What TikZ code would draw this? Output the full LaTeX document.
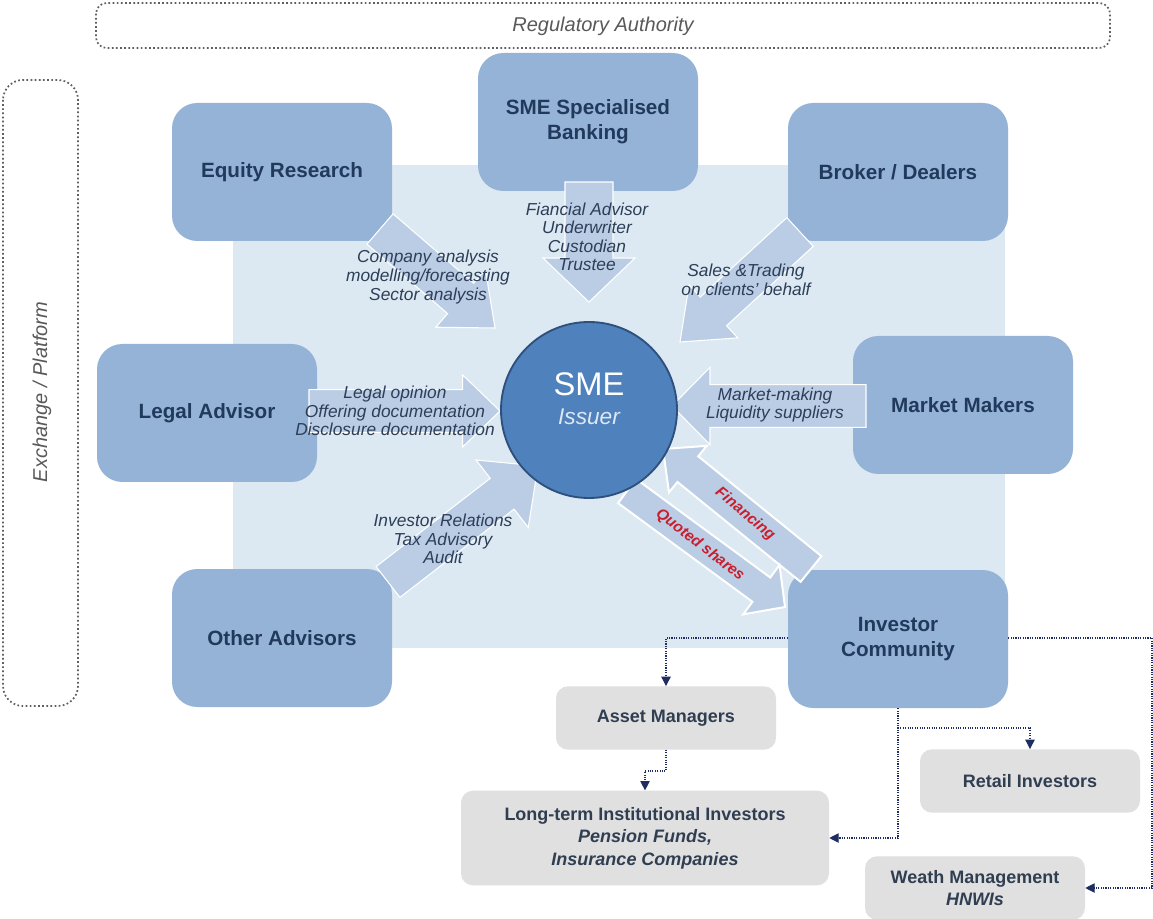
\documentclass[tikz,border=0pt]{standalone}
\usepackage{fontspec}
\setmainfont{Liberation Sans}
\usepackage{tikz}
\usetikzlibrary{arrows.meta,calc}

\definecolor{pagebg}{RGB}{220,233,242}
\definecolor{boxblue}{RGB}{149,179,215}
\definecolor{arrowblue}{RGB}{186,205,229}
\definecolor{smeblue}{RGB}{79,129,189}
\definecolor{smeedge}{RGB}{45,80,125}
\definecolor{boxtext}{RGB}{33,58,92}
\definecolor{flowtext}{RGB}{45,62,88}
\definecolor{greybox}{RGB}{224,224,224}
\definecolor{greytext}{RGB}{48,62,82}
\definecolor{frameline}{RGB}{95,95,95}
\definecolor{frametext}{RGB}{89,89,89}
\definecolor{linkblue}{RGB}{31,45,96}
\definecolor{flowred}{RGB}{200,30,45}
\definecolor{issuertext}{RGB}{222,232,244}

\tikzset{
  dotframe/.style={draw=frameline, line width=1.3pt, dash pattern=on 1.3pt off 1.8pt},
  frametag/.style={text=frametext, font=\fontsize{15}{18}\selectfont\itshape},
  player/.style={rectangle, rounded corners=19pt, fill=boxblue, minimum width=165pt, minimum height=103.5pt,
    align=center, text=boxtext, font=\fontsize{15.5}{18.75}\selectfont\bfseries},
  investorbox/.style={rectangle, rounded corners=9pt, fill=greybox, minimum width=165pt, minimum height=47.5pt,
    align=center, text=greytext, font=\fontsize{13.5}{16.8}\selectfont\bfseries},
  smecircle/.style={circle, fill=smeblue, draw=smeedge, line width=1.4pt, minimum size=132pt, inner sep=0pt},
  flowarrow/.style={fill=arrowblue, draw=white, line width=0.8pt},
  flowlabel/.style={align=center, text=flowtext, inner sep=0pt, font=\fontsize{13}{13.9}\selectfont\itshape},
  tradelabel/.style={text=flowred, font=\fontsize{11.5}{13}\selectfont\bfseries\itshape, inner sep=0pt},
  feedline/.style={linkblue, line width=0.8pt, densely dotted, -{Triangle[length=7pt,width=7pt]}}
}

\newcommand{\blockarrow}[6][]{%
  \coordinate (ba-base) at ($(#3)!#6!(#2)$);
  \filldraw[flowarrow,#1] ($(#2)!#4!90:(#3)$) -- ($(ba-base)!#4!90:(#3)$)
    -- ($(ba-base)!#5!90:(#3)$) -- (#3) -- ($(ba-base)!#5!-90:(#3)$)
    -- ($(ba-base)!#4!-90:(#3)$) -- ($(#2)!#4!-90:(#3)$) -- cycle;}

\begin{document}
\begin{tikzpicture}[x=0.75pt, y=-0.75pt]
\fill[white] (0,0) rectangle (1153,919);
\useasboundingbox (0,0) rectangle (1153,919);

\draw[dotframe, rounded corners=8pt] (96,3) rectangle (1110,48);
\node[frametag] (reg) at (603,26) {Regulatory Authority};
\draw[dotframe, rounded corners=15pt] (3,80) rectangle (78,706);
\node[frametag, rotate=90] (exch) at (42,392) {Exchange / Platform};

\fill[pagebg] (233,165) rectangle (1005,648);

\node[player] (eq) at (282,172) {Equity Research};
\node[player] (bank) at (588,122) {SME Specialised\\Banking};
\node[player] (brk) at (898,172) {Broker / Dealers};
\node[player] (legal) at (207,413) {Legal Advisor};
\node[player] (mm) at (963,405) {Market Makers};
\node[player] (oth) at (282,638) {Other Advisors};
\node[player] (inv) at (898,639) {Investor\\Community};

\coordinate (eq-t) at (380,229);   \coordinate (eq-h) at (495,328);
\coordinate (bank-t) at (589,182); \coordinate (bank-h) at (589,302);
\coordinate (brk-t) at (800,232);  \coordinate (brk-h) at (680,342);
\coordinate (legal-t) at (309,411);\coordinate (legal-h) at (500,411);
\coordinate (mm-t) at (866,406);   \coordinate (mm-h) at (672,406);
\coordinate (oth-t) at (388,582);  \coordinate (oth-h) at (538,466);
\coordinate (fin-t) at (811,569);  \coordinate (fin-h) at (663,449);
\coordinate (qs-t) at (627,491);   \coordinate (qs-h) at (785,607);

\blockarrow{eq-t}{eq-h}{15pt}{28.5pt}{34pt}
\blockarrow{bank-t}{bank-h}{18pt}{34.5pt}{33pt}
\blockarrow{brk-t}{brk-h}{14.6pt}{27pt}{34pt}
\blockarrow{legal-t}{legal-h}{16pt}{27pt}{28pt}
\blockarrow{mm-t}{mm-h}{16pt}{29pt}{28.5pt}
\blockarrow{oth-t}{oth-h}{14.6pt}{32pt}{34pt}
\blockarrow[line width=1.5pt]{fin-t}{fin-h}{12.4pt}{22.5pt}{24pt}
\blockarrow[line width=1.5pt]{qs-t}{qs-h}{11.3pt}{23pt}{22pt}

\node[smecircle] (sme) at (589,410) {};
\node[text=white, font=\fontsize{24.5}{28}\selectfont] (sme-t) at (589,384) {SME};
\node[text=issuertext, font=\fontsize{17}{20}\selectfont\itshape] (sme-i) at (589,417) {Issuer};

\node[flowlabel] (eq-l) at (428,277) {Company analysis\\modelling/forecasting\\Sector analysis};
\node[flowlabel] (bank-l) at (587,237) {Fiancial Advisor\\Underwriter\\Custodian\\Trustee};
\node[flowlabel] (brk-l) at (746,280) {Sales \&Trading\\on clients' behalf};
\node[flowlabel] (legal-l) at (395,411) {Legal opinion\\Offering documentation\\Disclosure documentation};
\node[flowlabel] (mm-l) at (775,405) {Market-making\\Liquidity suppliers};
\node[flowlabel] (oth-l) at (443,539) {Investor Relations\\Tax Advisory\\Audit};
\node[tradelabel, rotate=-40] (fin-l) at (745,514) {Financing};
\node[tradelabel, rotate=-38] (qs-l) at (700,545) {Quoted shares};

\node[investorbox] (am) at (666,718) {Asset Managers};
\node[investorbox, minimum width=276pt, minimum height=71pt] (lt) at (645,838)
  {Long-term Institutional Investors\\{\itshape Pension Funds,}\\{\itshape Insurance Companies}};
\node[investorbox] (ri) at (1030,781) {Retail Investors};
\node[investorbox] (wm) at (975,888) {Weath Management\\{\itshape HNWIs}};

\coordinate (inv-r) at (1152,638);
\coordinate (inv-b) at (898,728);
\coordinate (am-b) at (666,771);
\draw[feedline] (inv.west |- inv-r) -| (am.north);
\draw[feedline] (inv.east |- inv-r) -- (inv-r) |- (wm.east);
\draw[feedline] (inv.south) |- (lt.east);
\draw[feedline] (inv-b) -| (ri.north);
\draw[feedline] (am.south) -- (am-b) -| (lt.north);
\end{tikzpicture}
\end{document}
